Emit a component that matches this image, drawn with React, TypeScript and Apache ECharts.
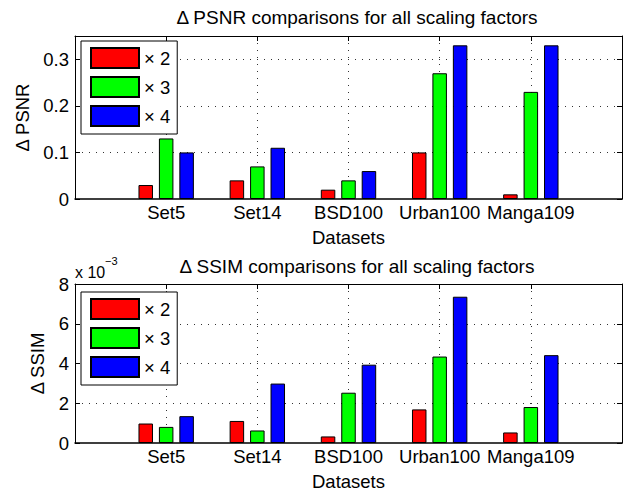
import React, { useEffect, useRef } from "react";
import * as echarts from "echarts";

const categories = ["Set5", "Set14", "BSD100", "Urban100", "Manga109"];
const seriesNames = ["× 2", "× 3", "× 4"];
const colors = ["#ff0000", "#00ff00", "#0000ff"];
const psnrX2 = [0.03, 0.04, 0.02, 0.10, 0.01];
const psnrX3 = [0.13, 0.07, 0.04, 0.27, 0.23];
const psnrX4 = [0.10, 0.11, 0.06, 0.33, 0.33];
const ssimX2 = [0.98, 1.11, 0.33, 1.69, 0.53];
const ssimX3 = [0.81, 0.63, 2.53, 4.35, 1.81];
const ssimX4 = [1.35, 2.99, 3.94, 7.36, 4.42];
const psnrTicks = { min: 0, max: 0.35, interval: 0.1 };
const ssimTicks = { min: 0, max: 8, interval: 2 };

const FONT = "'Liberation Sans', Arial, Helvetica, sans-serif";
const FS = 18.5;

export default function App() {
  const ref = useRef<HTMLDivElement>(null);
  useEffect(() => {
    if (!ref.current) return;
    const chart = echarts.init(ref.current, null, { renderer: "svg" });
    const dotted = { color: "#333", width: 1, type: [1, 6] as any };
    const xBottom = (gi: number, nameGap: number) => ({
      type: "value",
      gridIndex: gi,
      min: 0,
      max: 6,
      interval: 1,
      position: "bottom",
      name: "Datasets",
      nameLocation: "middle",
      nameGap,
      nameTextStyle: { fontSize: FS, color: "#000", fontFamily: FONT },
      axisLine: { show: true, onZero: false, lineStyle: { color: "#000", width: 1.5 } },
      axisTick: { show: true, inside: true, length: 5, lineStyle: { color: "#000" } },
      axisLabel: {
        show: true,
        margin: 4,
        fontSize: FS,
        color: "#000",
        fontFamily: FONT,
        formatter: (v: number) => categories[v - 1] ?? "",
      },
      splitLine: { show: true, showMinLine: false, showMaxLine: false, lineStyle: dotted },
    });
    const xTop = (gi: number) => ({
      type: "value",
      gridIndex: gi,
      min: 0,
      max: 6,
      interval: 1,
      position: "top",
      axisLine: { show: true, onZero: false, lineStyle: { color: "#000", width: 1 } },
      axisTick: { show: true, inside: true, length: 5, lineStyle: { color: "#000" } },
      axisLabel: { show: false },
      splitLine: { show: false },
    });
    const yLeft = (gi: number, t: any, name: string, nameGap: number) => ({
      type: "value",
      gridIndex: gi,
      min: t.min,
      max: t.max,
      interval: t.interval,
      position: "left",
      name,
      nameLocation: "middle",
      nameGap,
      nameTextStyle: { fontSize: FS, color: "#000", fontFamily: FONT },
      axisLine: { show: true, onZero: false, lineStyle: { color: "#000", width: 1 } },
      axisTick: { show: true, inside: true, length: 5, lineStyle: { color: "#000" } },
      axisLabel: { show: true, margin: 6, fontSize: FS, color: "#000", fontFamily: FONT, showMaxLabel: t.max % t.interval === 0 },
      splitLine: { show: true, showMinLine: false, showMaxLine: false, lineStyle: dotted },
    });
    const yRight = (gi: number, t: any) => ({
      type: "value",
      gridIndex: gi,
      min: t.min,
      max: t.max,
      interval: t.interval,
      position: "right",
      axisLine: { show: true, onZero: false, lineStyle: { color: "#000", width: 1 } },
      axisTick: { show: true, inside: true, length: 5, lineStyle: { color: "#000" } },
      axisLabel: { show: false },
      splitLine: { show: false },
    });
    const mk = (vals: number[], i: number, gi: number) => ({
      type: "bar",
      name: seriesNames[i],
      xAxisIndex: gi * 2,
      yAxisIndex: gi * 2,
      data: vals.map((v, k) => [k + 1, v]),
      barWidth: 14.5,
      barGap: "41%",
      itemStyle: { color: colors[i], borderColor: "#000", borderWidth: 1 },
    });
    const legend = (top: number) => ({
      orient: "vertical",
      left: 81,
      top,
      data: seriesNames,
      icon: "rect",
      itemWidth: 48,
      itemHeight: 20,
      itemGap: 7,
      padding: [6, 7, 7, 9],
      borderColor: "#000",
      borderWidth: 1,
      backgroundColor: "#fff",
      selectedMode: false,
      textStyle: { fontSize: FS, color: "#000", fontFamily: FONT },
    });
    chart.setOption({
      animation: false,
      backgroundColor: "#fff",
      textStyle: { fontFamily: FONT },
      grid: [
        { left: 75, top: 36, width: 547, height: 163 },
        { left: 75, top: 284, width: 547, height: 163 },
      ],
      xAxis: [xBottom(0, 29), xTop(0), xBottom(1, 29), xTop(1)],
      yAxis: [
        yLeft(0, psnrTicks, "Δ PSNR", 38),
        yRight(0, psnrTicks),
        yLeft(1, ssimTicks, "Δ SSIM", 28),
        yRight(1, ssimTicks),
      ],
      legend: [legend(41), legend(292)],
      series: [
        mk(psnrX2, 0, 0),
        mk(psnrX3, 1, 0),
        mk(psnrX4, 2, 0),
        mk(ssimX2, 0, 1),
        mk(ssimX3, 1, 1),
        mk(ssimX4, 2, 1),
      ],
      graphic: [
        {
          type: "text",
          x: 357,
          y: 17,
          style: { text: "Δ PSNR comparisons for all scaling factors", fontSize: 19, fill: "#000", fontFamily: FONT, align: "center", verticalAlign: "middle" },
        },
        {
          type: "text",
          x: 357,
          y: 266,
          style: { text: "Δ SSIM comparisons for all scaling factors", fontSize: 19, fill: "#000", fontFamily: FONT, align: "center", verticalAlign: "middle" },
        },
        {
          type: "text",
          x: 75,
          y: 272,
          style: { text: "x 10", fontSize: 16, fill: "#000", fontFamily: FONT, align: "left", verticalAlign: "middle" },
        },
        {
          type: "text",
          x: 105,
          y: 261,
          style: { text: "−3", fontSize: 11, fill: "#000", fontFamily: FONT, align: "left", verticalAlign: "middle" },
        },
      ],
    });
    return () => chart.dispose();
  }, []);
  return <div ref={ref} style={{ position: "fixed", left: 0, top: 0, width: 628, height: 492 }} />;
}
